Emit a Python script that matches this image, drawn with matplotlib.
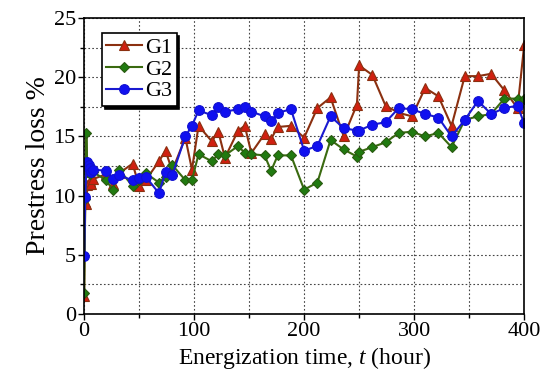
import matplotlib
matplotlib.use("Agg")
import matplotlib.pyplot as plt
from matplotlib.ticker import MultipleLocator

plt.rcParams["font.family"] = "Liberation Serif"
plt.rcParams["mathtext.fontset"] = "custom"
plt.rcParams["mathtext.rm"] = "Liberation Serif"
plt.rcParams["mathtext.it"] = "Liberation Serif:italic"

# energization time (hour)
t = [0, 1, 2, 3, 4, 5, 6, 8,
     20, 26, 32, 44, 50, 56, 68, 74, 80,
     92, 98, 104, 116, 122, 128, 140, 146, 152, 164, 170, 176, 188,
     200, 212, 224, 236, 248, 250, 262, 274, 286, 298, 310, 322, 334,
     346, 358, 370, 382, 394, 400]

g1 = [1.5, 9.5, 9.3, 10.9, 11.0, 11.2, 11.0, 11.4,
      11.8, 11.0, 11.9, 12.7, 10.8, 11.3, 12.9, 13.8, 12.1,
      14.9, 12.2, 15.9, 14.6, 15.4, 13.2, 15.5, 15.9, 13.6, 15.2, 14.8, 15.8, 15.9,
      14.9, 17.4, 18.3, 15.0, 17.7, 21.0, 20.2, 17.6, 17.0, 16.7, 19.1, 18.4, 15.9,
      20.1, 20.1, 20.3, 18.9, 17.4, 22.7]

g2 = [1.8, 9.7, 15.3, 12.0, 12.3, 11.8, 12.0, 12.0,
      11.3, 10.5, 12.2, 10.8, 11.3, 11.9, 11.1, 11.6, 12.6,
      11.3, 11.3, 13.5, 12.9, 13.5, 13.4, 14.2, 13.6, 13.5, 13.4, 12.1, 13.4, 13.4,
      10.5, 11.1, 14.7, 13.9, 13.3, 13.7, 14.1, 14.5, 15.3, 15.4, 15.0, 15.3, 14.1,
      16.4, 16.7, 16.9, 18.2, 18.2, 18.2]

g3 = [4.9, 9.9, 12.5, 12.8, 12.6, 12.3, 12.0, 12.2,
      12.1, 11.4, 11.7, 11.3, 11.5, 11.6, 10.2, 12.0, 11.7,
      15.0, 15.9, 17.2, 16.8, 17.45, 17.1, 17.3, 17.5, 17.1, 16.7, 16.3, 17.0, 17.3,
      13.8, 14.2, 16.7, 15.7, 15.5, 15.5, 16.0, 16.2, 17.4, 17.3, 16.9, 16.6, 15.0,
      16.4, 18.0, 16.9, 17.4, 17.6, 16.1]

fig = plt.figure(figsize=(5.5, 3.87), dpi=100)
ax = fig.add_axes([0.153, 0.189, 0.8, 0.764])

ax.plot(t, g1, color="#8B3010", lw=1.5, marker="^", ms=7,
        mfc="#D02010", mec="#8B3010", mew=0.8, label="G1")
ax.plot(t, g2, color="#3A6A10", lw=1.5, marker="D", ms=5.5,
        mfc="#207A10", mec="#2A5A10", mew=0.8, label="G2")
ax.plot(t, g3, color="#1A1AD0", lw=1.5, marker="o", ms=7,
        mfc="#1010F0", mec="#1010D0", mew=0.8, label="G3")

ax.set_xlim(0, 400)
ax.set_ylim(0, 25)
ax.xaxis.set_major_locator(MultipleLocator(100))
ax.xaxis.set_minor_locator(MultipleLocator(50))
ax.yaxis.set_major_locator(MultipleLocator(5))
ax.yaxis.set_minor_locator(MultipleLocator(2.5))
ax.grid(True, which="both", color="#444444", ls=(0, (1.5, 2)), lw=0.8)
ax.tick_params(which="major", direction="out", length=4, width=1, labelsize=16,
               pad=2)
ax.tick_params(which="minor", direction="out", length=3, width=1)
for s in ax.spines.values():
    s.set_linewidth(1.2)

ax.set_xlabel("Energization time, $t$ (hour)", fontsize=17, labelpad=3)
ax.set_ylabel("Prestress loss %", fontsize=20, labelpad=2)

leg = ax.legend(loc="upper left", bbox_to_anchor=(0.03, 0.965), fontsize=16,
                frameon=True, fancybox=False, edgecolor="black",
                shadow={"color": "black", "alpha": 1},
                handlelength=1.6, borderpad=0.2, labelspacing=0.05,
                handletextpad=0.15, borderaxespad=0.2)
leg.get_frame().set_linewidth(1.2)

fig.savefig("out.png", dpi=100)
